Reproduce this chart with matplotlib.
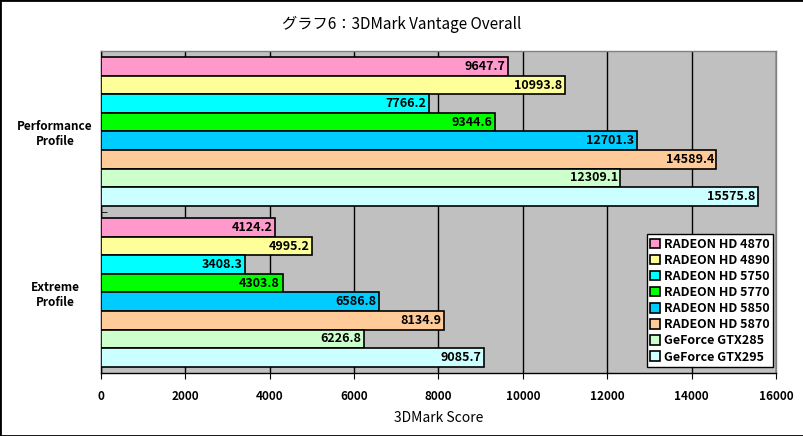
import matplotlib
matplotlib.use("Agg")
import matplotlib.pyplot as plt
import numpy as np
from matplotlib.patches import Rectangle

plt.rcParams['font.family'] = ['Noto Sans CJK JP', 'DejaVu Sans']

categories = ["Performance\nProfile", "Extreme\nProfile"]
series = ["RADEON HD 4870", "RADEON HD 4890", "RADEON HD 5750", "RADEON HD 5770",
          "RADEON HD 5850", "RADEON HD 5870", "GeForce GTX285", "GeForce GTX295"]
values = {
    "RADEON HD 4870": [9647.7, 4124.2],
    "RADEON HD 4890": [10993.8, 4995.2],
    "RADEON HD 5750": [7766.2, 3408.3],
    "RADEON HD 5770": [9344.6, 4303.8],
    "RADEON HD 5850": [12701.3, 6586.8],
    "RADEON HD 5870": [14589.4, 8134.9],
    "GeForce GTX285": [12309.1, 6226.8],
    "GeForce GTX295": [15575.8, 9085.7],
}
colors = ["#FF99CC", "#FFFF99", "#00FFFF", "#00FF00", "#00CCFF", "#FFCC99", "#CCFFCC", "#CCFFFF"]
xticks = [0, 2000, 4000, 6000, 8000, 10000, 12000, 14000, 16000]
title = "グラフ6：3DMark Vantage Overall"
xlabel = "3DMark Score"

fig = plt.figure(figsize=(8.04, 4.36), dpi=100)
ax = fig.add_axes([101/804, 1-373/436, (776-101)/804, (373-51)/436])
ax.set_facecolor("#C0C0C0")

n = len(series)
group = 149/161.5
h = group / n
y = np.arange(len(categories))
for i, s in enumerate(series):
    pos = y - group/2 + h/2 + i*h
    bars = ax.barh(pos, values[s], height=h, color=colors[i], edgecolor="black",
                   linewidth=1.2, label=s, zorder=3)
    for b, v in zip(bars, values[s]):
        ax.text(v - 60, b.get_y() + b.get_height()/2, f"{v:.1f}", ha="right", va="center",
                fontsize=9, fontweight="bold", zorder=4)

ax.set_xlim(0, 16000)
ax.set_ylim(1.5, -0.5)
ax.set_xticks(xticks)
ax.set_xticklabels([str(t) for t in xticks], fontsize=8.5, fontweight="bold")
ax.set_yticks(y)
ax.set_yticklabels(categories, fontsize=8.5, fontweight="bold", ha="center")
ax.tick_params(axis="y", length=0, pad=33)
ax.set_yticks([0.5], minor=True)
ax.tick_params(axis="y", which="minor", length=4, direction="in")
ax.tick_params(axis="x", length=4, direction="out", pad=8)
ax.grid(axis="x", color="black", linewidth=1, zorder=1)
ax.set_axisbelow(True)
for sp in ax.spines.values():
    sp.set_color("black")
    sp.set_linewidth(1)
ax.spines["top"].set_color("#808080")
ax.spines["right"].set_color("#808080")

ax.set_xlabel(xlabel, fontsize=10, labelpad=6)
fig.text(0.5, 1-24/436, title, ha="center", va="center", fontsize=11)

leg = ax.legend(loc="lower right", bbox_to_anchor=(1.0, 0.01), fontsize=9, frameon=True,
                fancybox=False, edgecolor="black", framealpha=1, borderpad=0.3,
                handlelength=0.8, handleheight=0.8, handletextpad=0.3, labelspacing=0.25,
                borderaxespad=0.2)
leg.get_frame().set_linewidth(1)
for t in leg.get_texts():
    t.set_fontweight("bold")

fig.patches.append(Rectangle((0, 0), 1, 1, transform=fig.transFigure, fill=False,
                             edgecolor="black", linewidth=2))
fig.savefig("out.png", dpi=100)
